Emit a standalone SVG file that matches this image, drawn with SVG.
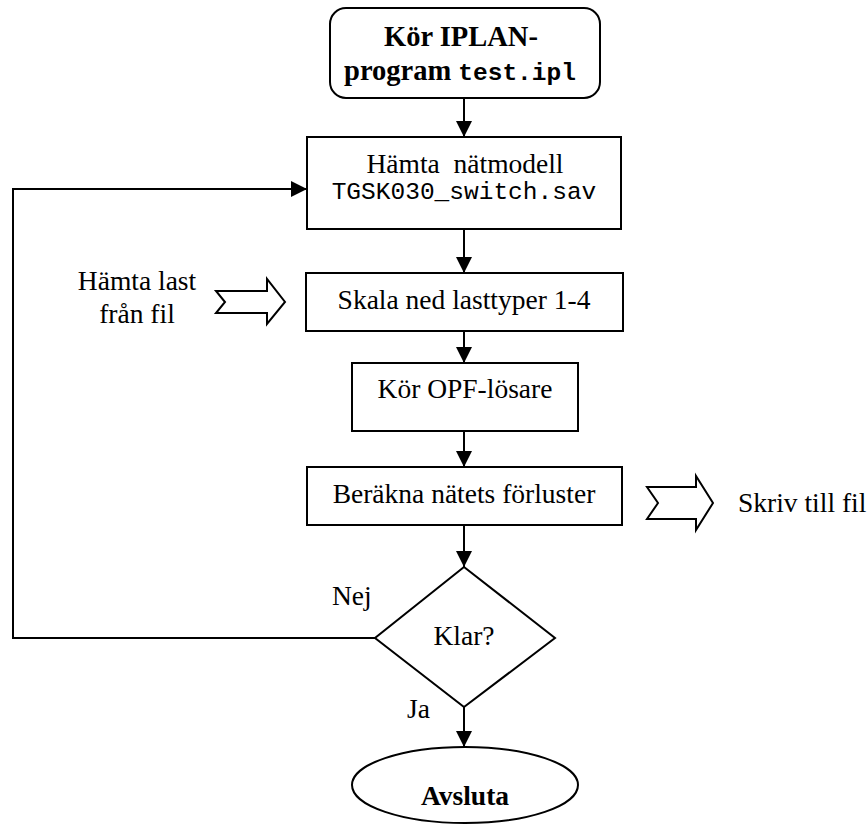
<svg xmlns="http://www.w3.org/2000/svg" width="868" height="834" viewBox="0 0 868 834">
<style>
.shape{fill:#fff;stroke:#000;stroke-width:2}
.line{fill:none;stroke:#000;stroke-width:2}
.t{font-family:"Liberation Serif","Times New Roman",serif;font-size:27.5px;fill:#000}
.b{font-weight:bold;font-size:28.5px}
.m{font-family:"Liberation Mono","Courier New",monospace;font-size:24.5px}
.mid{text-anchor:middle}
</style>
<defs>
<marker id="arr" viewBox="0 0 16 16" markerWidth="16" markerHeight="16" refX="16" refY="8" orient="auto" markerUnits="userSpaceOnUse">
<path d="M0,0 L16,8 L0,16 z" fill="#000"/>
</marker>
</defs>
<rect width="868" height="834" fill="#fff"/>
<g id="connectors">
<line class="line" x1="464" y1="98" x2="464" y2="137" marker-end="url(#arr)"/>
<line class="line" x1="464" y1="229" x2="464" y2="273" marker-end="url(#arr)"/>
<line class="line" x1="464" y1="331" x2="464" y2="363" marker-end="url(#arr)"/>
<line class="line" x1="464" y1="431" x2="464" y2="467" marker-end="url(#arr)"/>
<line class="line" x1="464" y1="525" x2="464" y2="567" marker-end="url(#arr)"/>
<line class="line" x1="464" y1="707" x2="464" y2="747" marker-end="url(#arr)"/>
<polyline class="line" points="375,638 13,638 13,189 307,189" marker-end="url(#arr)"/>
<text class="t" x="332" y="605">Nej</text>
<text class="t" x="407" y="718">Ja</text>
</g>
<g id="start">
<rect class="shape" x="330" y="8" width="270" height="90" rx="16"/>
<text class="t b mid" x="461" y="46">Kör IPLAN-</text>
<text class="t b mid" x="460" y="80">program <tspan class="m">test.ipl</tspan></text>
</g>
<g id="hamta">
<rect class="shape" x="307" y="137" width="314" height="92"/>
<text class="t mid" x="465" y="173">Hämta&#160; nätmodell</text>
<text class="t m mid" x="464" y="199">TGSK030_switch.sav</text>
</g>
<g id="input">
<text class="t mid" x="137" y="290">Hämta last</text>
<text class="t mid" x="137" y="323">från fil</text>
<polygon class="shape" points="216,291 267,291 267,279 285,302 267,324 267,313 216,313 225,302"/>
</g>
<g id="skala">
<rect class="shape" x="306" y="273" width="317" height="58"/>
<text class="t mid" x="464" y="309">Skala ned lasttyper 1-4</text>
</g>
<g id="opf">
<rect class="shape" x="352" y="363" width="226" height="68"/>
<text class="t mid" x="465" y="398">Kör OPF-lösare</text>
</g>
<g id="berakna">
<rect class="shape" x="307" y="467" width="315" height="58"/>
<text class="t mid" x="464" y="503">Beräkna nätets förluster</text>
</g>
<g id="output">
<polygon class="shape" points="647,487 696,487 696,476 713,503 696,530 696,519 647,519 658,503"/>
<text class="t" x="738" y="512">Skriv till fil</text>
</g>
<g id="klar">
<polygon class="shape" points="464,567 555,638 464,707 375,638"/>
<text class="t mid" x="464" y="645">Klar?</text>
</g>
<g id="end">
<ellipse class="shape" cx="465" cy="785" rx="113" ry="38"/>
<text class="t b mid" x="465" y="805" style="font-size:27.5px">Avsluta</text>
</g>
</svg>
